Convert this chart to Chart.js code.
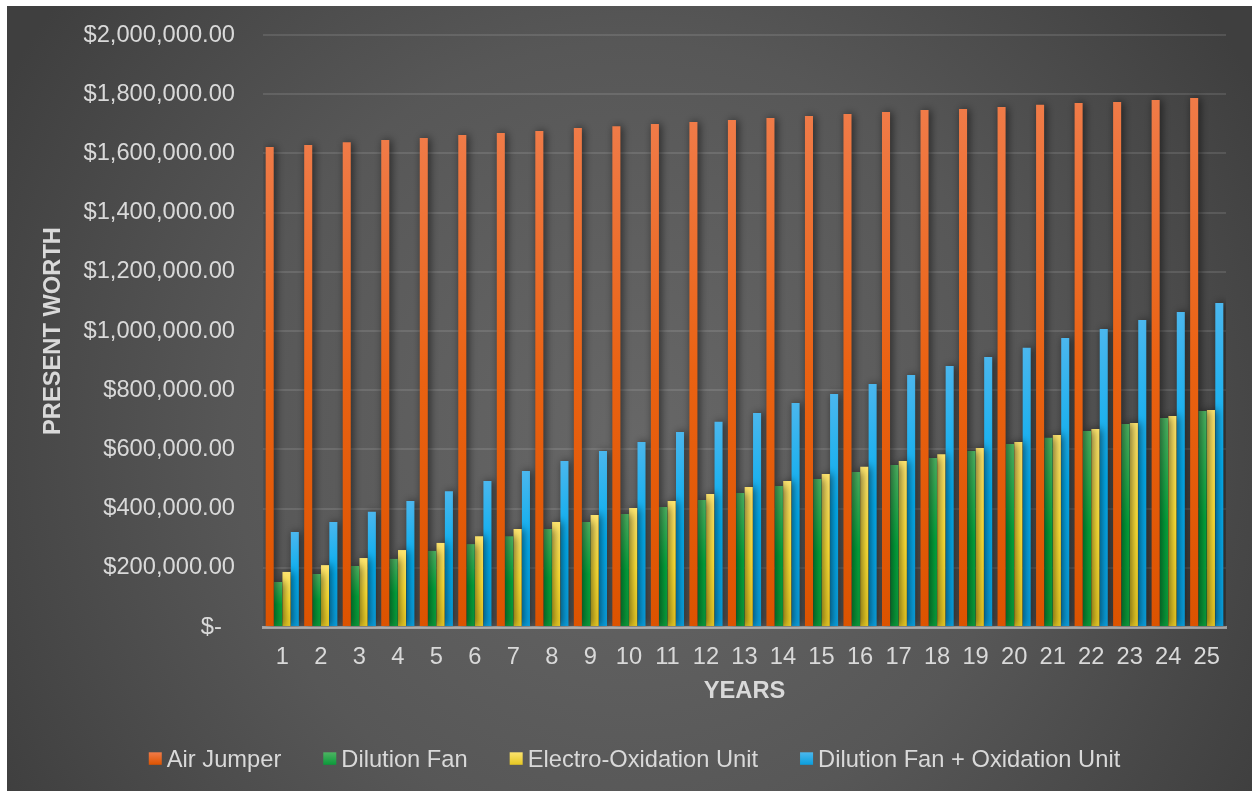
<!DOCTYPE html>
<html>
<head>
<meta charset="utf-8">
<script src="https://cdn.jsdelivr.net/npm/chart.js@4.4.1/dist/chart.umd.min.js"></script>
<style>
html,body{margin:0;padding:0;background:#fff;overflow:hidden}
#wrap{position:absolute;left:0;top:0;width:1252px;height:791px}
</style>
</head>
<body>
<div id="wrap"><canvas id="c" width="1252" height="791"></canvas></div>
<script>
// ---- data ----
const years = ['1','2','3','4','5','6','7','8','9','10','11','12','13','14','15','16','17','18','19','20','21','22','23','24','25'];
const airJumper = [1622000,1628000,1638000,1645000,1652000,1662000,1669000,1676000,1686000,1692000,1699000,1706000,1713000,1720000,1726000,1733000,1740000,1747000,1750000,1757000,1764000,1770000,1774000,1780000,1787000];
const dilutionFan = [152000,179000,206000,230000,257000,280000,307000,331000,355000,382000,405000,429000,453000,476000,500000,524000,547000,571000,595000,618000,639000,662000,686000,706000,730000];
const electroOxidation = [186000,209000,233000,260000,284000,307000,331000,355000,378000,402000,426000,449000,473000,493000,517000,541000,561000,584000,605000,625000,649000,669000,689000,713000,733000];
const fanPlusOxidation = [321000,355000,389000,426000,459000,493000,527000,561000,595000,625000,659000,693000,723000,757000,787000,821000,851000,882000,912000,943000,976000,1007000,1037000,1064000,1095000];
const seriesNames = ['Air Jumper','Dilution Fan','Electro-Oxidation Unit','Dilution Fan + Oxidation Unit'];
const yTicks = {min:0, max:2000000, step:200000};

// ---- styles ----
const FONT = "'Liberation Sans', Arial, sans-serif";
const FS = 23.7;
const TXT = '#d9d9d9';
const stops = [
  ['#f07b48','#ea6212','#dc5300'],
  ['#4db462','#02a63c','#0b9a3a'],
  ['#fde46e','#ffe236','#e5c722'],
  ['#4bb7ee','#03adef','#0a9edc']
];

function barGrad(i){
  return (ctx) => {
    const chart = ctx.chart;
    if (!chart.chartArea || ctx.type !== 'data') return stops[i][1];
    const y = chart.scales.y;
    const y0 = y.getPixelForValue(0);
    const y1 = y.getPixelForValue(ctx.raw);
    if (!isFinite(y0) || !isFinite(y1) || Math.abs(y0-y1) < 1) return stops[i][1];
    const g = chart.ctx.createLinearGradient(0, y1, 0, y0);
    g.addColorStop(0, stops[i][0]);
    g.addColorStop(0.5, stops[i][1]);
    g.addColorStop(1, stops[i][2]);
    return g;
  };
}

const bgPlugin = {
  id: 'bg',
  beforeDraw(chart){
    const c = chart.ctx, W = chart.width, H = chart.height;
    c.save();
    c.fillStyle = '#ffffff';
    c.fillRect(0,0,W,H);
    const x0 = 7, y0 = 6;
    const cx = (x0+W)/2, cy = (y0+H)/2 + 40;
    const g = c.createRadialGradient(cx, cy, 0, cx, cy, 720);
    g.addColorStop(0, '#676767');
    g.addColorStop(0.55, '#575757');
    g.addColorStop(1, '#3f3f3f');
    c.fillStyle = g;
    c.fillRect(x0, y0, W-x0, H-y0);
    c.restore();
  }
};

const shadowPlugin = {
  id: 'barShadow',
  beforeDatasetsDraw(chart){
    const c = chart.ctx;
    c.save();
    c.shadowColor = 'rgba(0,0,0,0.6)';
    c.shadowBlur = 8;
    c.shadowOffsetX = 2;
    c.shadowOffsetY = 0;
  },
  afterDatasetsDraw(chart){
    chart.ctx.restore();
  }
};

const legendPlugin = {
  id: 'customLegend',
  afterDraw(chart){
    const c = chart.ctx;
    c.save();
    c.font = FS + 'px ' + FONT;
    const boxW = 13, boxH = 12.5, gapBT = 5, gapItem = 42;
    const ws = seriesNames.map(n => c.measureText(n).width);
    let total = 0;
    ws.forEach((w,i) => { total += boxW + gapBT + w; if (i) total += gapItem; });
    let x = 634.5 - total/2;
    const base = 766.5;
    seriesNames.forEach((n,i) => {
      const g = c.createLinearGradient(0, 752.3, 0, 752.3+boxH);
      g.addColorStop(0, stops[i][0]);
      g.addColorStop(1, stops[i][2]);
      c.fillStyle = g;
      c.fillRect(x, 752.3, boxW, boxH);
      x += boxW + gapBT;
      c.fillStyle = TXT;
      c.textBaseline = 'alphabetic';
      c.textAlign = 'left';
      c.fillText(n, x, base);
      x += ws[i] + gapItem;
    });
    c.restore();
  }
};

function money(v){
  if (v === 0) return '$-  ';
  return '$' + v.toLocaleString('en-US', {minimumFractionDigits:2, maximumFractionDigits:2});
}

const seriesData = [airJumper, dilutionFan, electroOxidation, fanPlusOxidation];

new Chart(document.getElementById('c'), {
  type: 'bar',
  data: {
    labels: years,
    datasets: seriesData.map((d,i) => ({
      label: seriesNames[i],
      data: d,
      backgroundColor: barGrad(i),
      borderWidth: 0,
      categoryPercentage: 0.87,
      barPercentage: 0.96
    }))
  },
  options: {
    responsive: false,
    animation: false,
    devicePixelRatio: 1,
    layout: { padding: { left: 7, top: 35, right: 26, bottom: 85 } },
    plugins: {
      legend: { display: false },
      tooltip: { enabled: false }
    },
    scales: {
      x: {
        z: 1,
        grid: { display: false, drawTicks: false },
        border: { display: true, color: 'rgba(225,225,225,0.55)', width: 3 },
        ticks: { color: TXT, font: { family: FONT, size: FS }, padding: 16, maxRotation: 0, autoSkip: false },
        title: { display: true, text: 'YEARS', color: TXT, font: { family: FONT, size: FS, weight: 'bold' }, padding: { top: 0, bottom: 0 } },
        afterFit(scale){ scale.height = 79; }
      },
      y: {
        min: yTicks.min, max: yTicks.max,
        grid: { color: 'rgba(255,255,255,0.11)', lineWidth: 2, drawTicks: false },
        border: { display: false },
        ticks: { stepSize: yTicks.step, color: TXT, font: { family: FONT, size: FS }, padding: 28, callback: (v) => money(v) },
        title: { display: true, text: 'PRESENT WORTH', color: TXT, font: { family: FONT, size: FS, weight: 'bold' }, padding: { top: 32.4, bottom: 0 } },
        afterFit(scale){ scale.width = 256; scale.paddingTop = 14; scale.paddingBottom = 14; }
      }
    }
  },
  plugins: [bgPlugin, shadowPlugin, legendPlugin]
});
</script>
</body>
</html>
